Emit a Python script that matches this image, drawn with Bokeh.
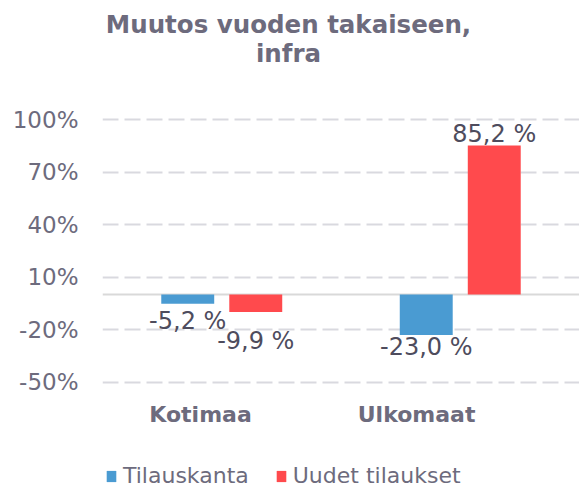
from bokeh.plotting import figure
from bokeh.models import (Range1d, FixedTicker, PrintfTickFormatter, Span, Label,
                          Legend, LegendItem, ColumnDataSource)
from bokeh.embed import file_html
from bokeh.resources import INLINE
from bokeh.core.properties import value

# ---- data ----
title_lines = ["Muutos vuoden takaiseen,", "infra"]
categories = ["Kotimaa", "Ulkomaat"]
series_names = ["Tilauskanta", "Uudet tilaukset"]
tilauskanta = [-5.2, -23.0]
uudet_tilaukset = [-9.9, 85.2]
y_ticks = [-50, -20, 10, 40, 70, 100]

# ---- style ----
FONT = "DejaVu Sans"
colors = ["#4a9bd2", "#ff4a4d"]
text_grey = "#6d6b7d"
label_dark = "#4e4c5d"
grid_col = "#d9d9df"
bar_width = 0.222
dodge = 0.1426
label_offsets = [[17, 12], [29, -11]]   # px offsets of value labels (series x category)
cat_label_shift = [-0.089, -0.183]      # category label shift in category units
cat_label_y = -68.5                      # vertical position of category labels (value units)

p = figure(width=579, height=489, x_range=Range1d(0, 2), y_range=Range1d(-111.3, 167.96),
           output_backend="svg", toolbar_location=None, x_axis_location=None,
           min_border_left=102, min_border_right=0, min_border_top=0, min_border_bottom=0)
p.outline_line_color = None
p.background_fill_color = "white"
p.border_fill_color = "white"

p.xgrid.visible = False
p.ygrid.ticker = FixedTicker(ticks=y_ticks)
p.ygrid.grid_line_color = grid_col
p.ygrid.grid_line_width = 2
p.ygrid.grid_line_dash = "16 6"

yax = p.yaxis[0]
yax.ticker = FixedTicker(ticks=y_ticks)
yax.formatter = PrintfTickFormatter(format="%d%%")
yax.axis_line_color = None
yax.major_tick_line_color = None
yax.minor_tick_line_color = None
yax.major_tick_out = 0
yax.major_tick_in = 0
yax.major_label_standoff = 24
yax.major_label_text_font = FONT
yax.major_label_text_font_size = "23px"
yax.major_label_text_color = text_grey

p.add_layout(Span(location=0, dimension="width", line_color="#d9d9d9", line_width=2, level="underlay"))

renderers = []
for si, (vals, col) in enumerate(zip([tilauskanta, uudet_tilaukset], colors)):
    xs = [i + 0.5 + (-dodge if si == 0 else dodge) for i in range(len(categories))]
    src = ColumnDataSource(dict(
        x=xs, top=vals,
        txt=[f"{v:.1f}".replace(".", ",") + " %" for v in vals],
        yoff=label_offsets[si],
    ))
    r = p.vbar(x="x", top="top", bottom=0, width=bar_width, source=src,
               fill_color=col, line_color=None)
    renderers.append(r)
    p.text(x="x", y="top", text="txt", y_offset="yoff", source=src,
           text_align="center", text_baseline="middle",
           text_font=value(FONT), text_font_size="24px", text_color=label_dark)

# category labels
cat_src = ColumnDataSource(dict(
    x=[i + 0.5 + s for i, s in enumerate(cat_label_shift)],
    y=[cat_label_y] * len(categories),
    txt=categories,
))
p.text(x="x", y="y", text="txt", source=cat_src, text_align="center", text_baseline="middle",
       text_font=value(FONT), text_font_style="bold", text_font_size="22px", text_color=text_grey)

# title
for k, line in enumerate(title_lines):
    p.add_layout(Label(x=186, y=465 - 29 * k, x_units="screen", y_units="screen",
                       text=line, text_align="center", text_baseline="middle",
                       text_font=FONT, text_font_size="24.5px", text_font_style="bold",
                       text_color=text_grey))

legend = Legend(items=[LegendItem(label=n, renderers=[r]) for n, r in zip(series_names, renderers)],
                orientation="horizontal", location=(3, 1),
                glyph_width=12, glyph_height=14, label_standoff=6, spacing=26,
                padding=0, margin=0, border_line_color=None, background_fill_alpha=0,
                label_text_font=FONT, label_text_font_size="22px", label_text_color=text_grey)
p.add_layout(legend)

open("out.html", "w").write(file_html(p, INLINE))
